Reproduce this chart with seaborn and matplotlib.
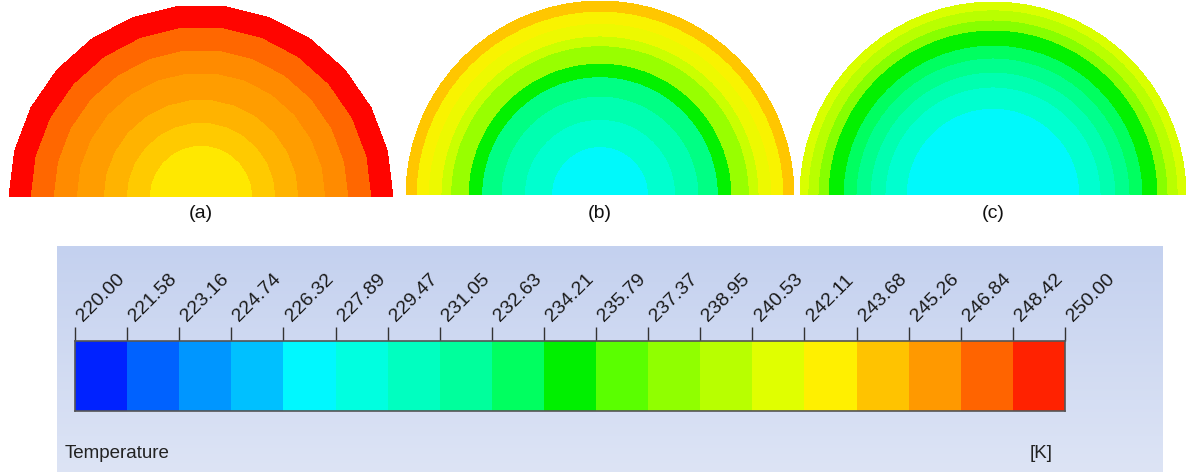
import numpy as np
import matplotlib
matplotlib.use("Agg")
import matplotlib.pyplot as plt
import matplotlib.tri as mtri
from matplotlib.colors import ListedColormap, LinearSegmentedColormap, Normalize
from matplotlib.transforms import ScaledTranslation
import seaborn as sns

# Temperature legend: 19 bands between 220 K and 250 K
tick_labels = ["220.00", "221.58", "223.16", "224.74", "226.32", "227.89", "229.47",
               "231.05", "232.63", "234.21", "235.79", "237.37", "238.95", "240.53",
               "242.11", "243.68", "245.26", "246.84", "248.42", "250.00"]
bar_colors = ["#0022ff", "#0062ff", "#0096ff", "#00c0ff", "#00f8ff", "#00ffe0", "#00ffc0",
              "#00ff9c", "#00ff60", "#00f000", "#5aff00", "#90ff00", "#b8ff00", "#e0ff00",
              "#fff000", "#ffc300", "#ff9900", "#ff6400", "#ff2200"]

# Cross-section contour bands: radial band edges (fraction of radius) and band temperature (K)
panel_names = ["(a)", "(b)", "(c)"]
edges_a = [0.0, 0.27, 0.39, 0.51, 0.65, 0.77, 0.89, 1.0]
temps_a = [243.2, 244.2, 245.0, 245.8, 246.44, 247.45, 249.8]
edges_b = [0.0, 0.25, 0.39, 0.51, 0.61, 0.68, 0.77, 0.82, 0.885, 0.948, 1.0]
temps_b = [227.3, 229.5, 230.9, 232.5, 235.0, 238.5, 240.5, 242.0, 242.6, 244.3]
edges_c = [0.0, 0.45, 0.56, 0.637, 0.71, 0.777, 0.855, 0.907, 0.96, 1.0]
temps_c = [227.3, 229.5, 230.9, 232.3, 233.4, 235.0, 237.9, 239.7, 241.0]

sns.set_theme(style="white")
plt.rcParams["font.family"] = ["Liberation Sans", "DejaVu Sans"]

W, H = 1186, 472
fig = plt.figure(figsize=(W / 100, H / 100), dpi=100)
fig.patch.set_facecolor("white")

levels = np.array([float(t) for t in tick_labels])
tmin, tmax = levels[0], levels[-1]
norm = Normalize(tmin, tmax)

# continuous map through band centres, used to shade the cross-sections
centres = (levels[:-1] + levels[1:]) / 2
anchor_t = np.concatenate([[tmin], centres, [tmax]])
anchor_c = ["#0010ff"] + bar_colors + ["#ff0000"]
field_cmap = LinearSegmentedColormap.from_list(
    "temp", list(zip(norm(anchor_t), anchor_c)))


def half_disk_mesh(n_seg, n_ring=80):
    theta = np.linspace(0, np.pi, n_seg + 1)
    radii = np.linspace(0, 1, n_ring + 1)[1:]
    xs, ys, zs = [0.0], [0.0], [0.0]
    for r in radii:
        xs.extend(r * np.cos(theta))
        ys.extend(r * np.sin(theta))
        zs.extend([r] * len(theta))
    idx = lambda k, j: 1 + k * (n_seg + 1) + j
    tris = []
    for j in range(n_seg):
        tris.append((0, idx(0, j), idx(0, j + 1)))
    for k in range(n_ring - 1):
        for j in range(n_seg):
            tris.append((idx(k, j), idx(k + 1, j), idx(k + 1, j + 1)))
            tris.append((idx(k, j), idx(k + 1, j + 1), idx(k, j + 1)))
    return mtri.Triangulation(np.array(xs), np.array(ys), np.array(tris)), np.array(zs)


panels = [
    (201, 197, 192, 13, edges_a, temps_a),
    (600, 195, 194, 36, edges_b, temps_b),
    (993, 195, 193, 36, edges_c, temps_c),
]
for name, (cx, base, r, nseg, edges, temps) in zip(panel_names, panels):
    ax = fig.add_axes([(cx - r) / W, (H - base) / H, 2 * r / W, r / H])
    tri, z = half_disk_mesh(nseg)
    lv = np.array(edges, dtype=float)
    lv[-1] += 1e-6
    cols = [field_cmap(norm(t)) for t in temps]
    ax.tricontourf(tri, z, levels=lv, colors=cols, antialiased=False)
    ax.set_xlim(-1, 1)
    ax.set_ylim(0, 1)
    ax.axis("off")
    fig.text(cx / W, 1 - 213 / H, name, ha="center", va="center", fontsize=14, color="#111111")

# legend panel background
bg = fig.add_axes([57 / W, 0, (1163 - 57) / W, (H - 246) / H])
grad = np.linspace(0, 1, 256)[:, None]
bg_cmap = LinearSegmentedColormap.from_list("bg", ["#c4d1ef", "#dde4f5"])
bg.imshow(grad, aspect="auto", cmap=bg_cmap, extent=[0, 1, 0, 1], origin="upper")
bg.axis("off")

# colour bar drawn as a one-row heatmap
cax = fig.add_axes([75 / W, (H - 411) / H, 990 / W, 70 / H])
sns.heatmap(np.array([centres]), cmap=ListedColormap(bar_colors), vmin=tmin, vmax=tmax,
            cbar=False, ax=cax, xticklabels=False, yticklabels=False)
cax.set_xticks(np.arange(len(tick_labels)))
cax.set_xticklabels(tick_labels, rotation=45, ha="left", rotation_mode="anchor",
                    fontsize=14, color="#1a1a1a")
cax.xaxis.tick_top()
cax.tick_params(axis="x", top=True, bottom=False, length=10, width=1, color="#333333", pad=2)
shift = ScaledTranslation(0.11, 0.0, fig.dpi_scale_trans)
for lab in cax.get_xticklabels():
    lab.set_transform(lab.get_transform() + shift)
cax.set_yticks([])
for s in cax.spines.values():
    s.set_visible(True)
    s.set_color("#555555")
    s.set_linewidth(1.2)

fig.text(65 / W, 1 - 453 / H, "Temperature", ha="left", va="center", fontsize=13.5, color="#222222")
fig.text(1053 / W, 1 - 453 / H, "[K]", ha="right", va="center", fontsize=13.5, color="#222222")

fig.savefig("out.png", dpi=100, facecolor="white")
